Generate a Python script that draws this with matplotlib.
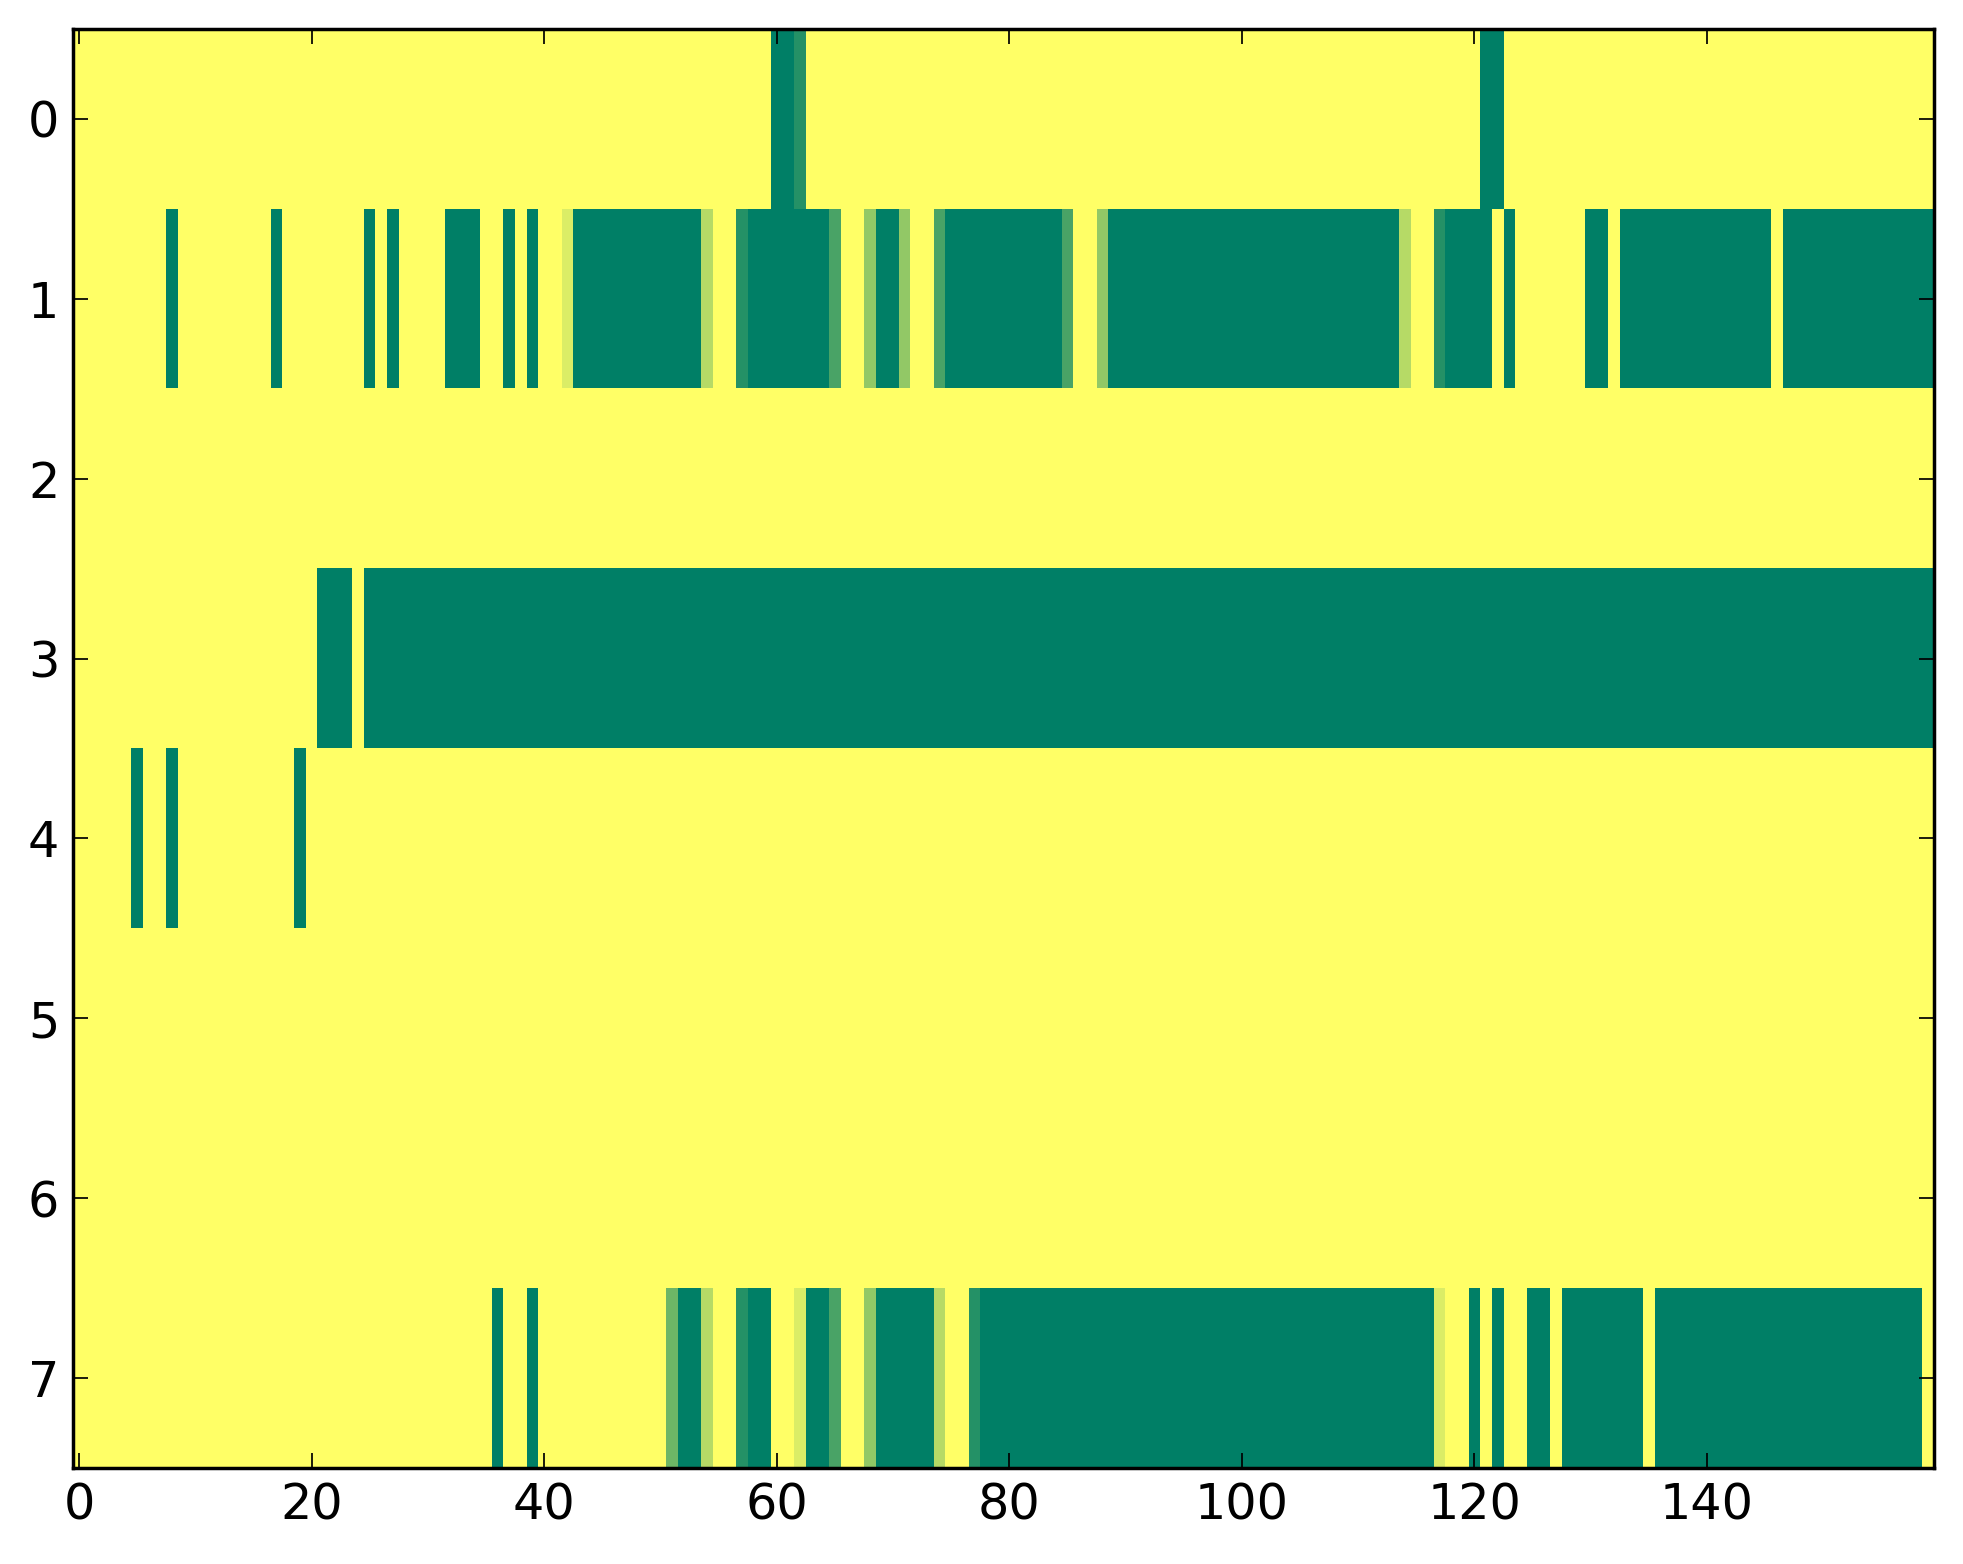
import numpy as np
import matplotlib
matplotlib.use("Agg")
import matplotlib.pyplot as plt

# Data: 8 rows x 160 columns, background level 7 (yellow), runs of other levels
n_rows = 8
n_cols = 160
background = 7
# (start_col, end_col_inclusive, level)
row0_runs = [(60, 61, 0), (62, 62, 1), (121, 122, 0)]
row1_runs = [(8, 8, 0), (17, 17, 0), (25, 25, 0), (27, 27, 0), (32, 34, 0),
             (37, 37, 0), (39, 39, 0), (42, 42, 6), (43, 53, 0), (54, 54, 5),
             (57, 57, 1), (58, 64, 0), (65, 65, 2), (68, 68, 4), (69, 70, 0),
             (71, 71, 4), (74, 74, 2), (75, 84, 0), (85, 85, 2), (88, 88, 4),
             (89, 113, 0), (114, 114, 5), (117, 117, 1), (118, 121, 0),
             (123, 123, 0), (130, 131, 0), (133, 145, 0), (147, 159, 0)]
row2_runs = []
row3_runs = [(21, 23, 0), (25, 159, 0)]
row4_runs = [(5, 5, 0), (8, 8, 0), (19, 19, 0)]
row5_runs = []
row6_runs = []
row7_runs = [(36, 36, 0), (39, 39, 0), (51, 51, 3), (52, 53, 0), (54, 54, 5),
             (57, 57, 1), (58, 59, 0), (62, 62, 6), (63, 64, 0), (65, 65, 2),
             (68, 68, 4), (69, 73, 0), (74, 74, 5), (77, 77, 1), (78, 116, 0),
             (117, 117, 6), (120, 120, 0), (122, 122, 0), (125, 126, 0),
             (128, 134, 0), (136, 158, 0)]
all_runs = [row0_runs, row1_runs, row2_runs, row3_runs,
            row4_runs, row5_runs, row6_runs, row7_runs]

grid = np.full((n_rows, n_cols), background, dtype=float)
for r, runs in enumerate(all_runs):
    for s, e, v in runs:
        grid[r, s:e + 1] = v

dpi = 250
fig = plt.figure(figsize=(1963 / dpi, 1564 / dpi), dpi=dpi, facecolor="white")
ax = fig.add_axes([73.2 / 1963, 1 - 1468 / 1564, (1933.8 - 73.2) / 1963, (1468 - 29) / 1564])
ax.imshow(grid, cmap="summer", vmin=0, vmax=background, aspect="auto",
          interpolation="nearest")
ax.set_xlim(-0.5, n_cols - 0.5)
ax.set_ylim(n_rows - 0.5, -0.5)
ax.set_yticks(range(n_rows))
ax.set_xticks(range(0, n_cols, 20))
for sp in ax.spines.values():
    sp.set_linewidth(1.0)
ax.tick_params(direction="in", top=True, right=True, length=4.2, width=0.5,
               labelsize=14.2, pad=4)
fig.savefig("out.png", dpi=dpi, facecolor="white")
